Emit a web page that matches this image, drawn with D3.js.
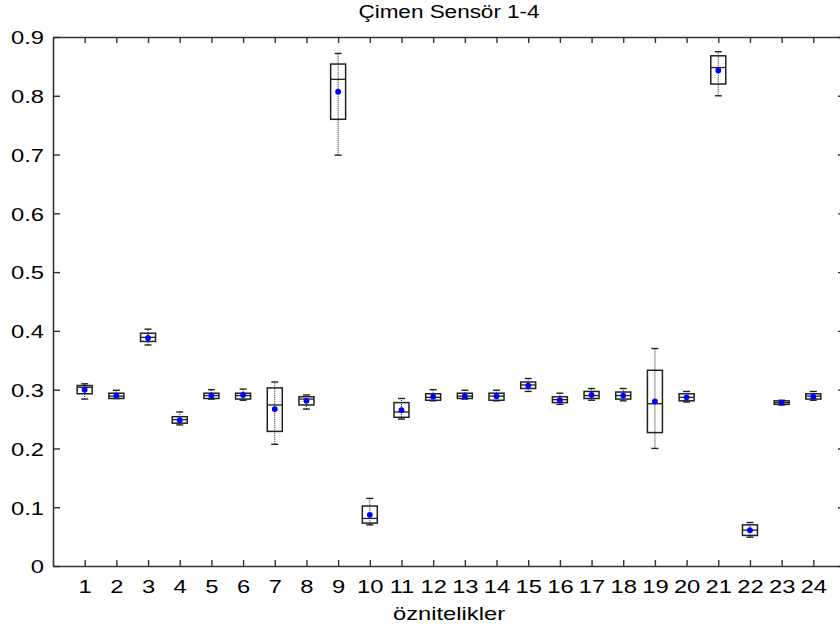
<!DOCTYPE html>
<html>
<head>
<meta charset="utf-8">
<script src="https://cdn.jsdelivr.net/npm/d3@7"></script>
<style>
  html, body { margin: 0; padding: 0; background: #fff; }
  svg { display: block; }
  text { font-family: "Liberation Sans", Arial, sans-serif; fill: #000; }
</style>
</head>
<body>
<svg id="chart" width="840" height="628"></svg>
<script>
// Feature indices (x categories)
const features = d3.range(1, 25);
// Box-plot statistics per feature
const whiskerLow  = [0.284, 0.285, 0.376, 0.240, 0.284, 0.282, 0.207, 0.267, 0.699, 0.070, 0.250, 0.281,
                     0.284, 0.281, 0.297, 0.275, 0.282, 0.281, 0.200, 0.279, 0.800, 0.049, 0.274, 0.282];
const q1          = [0.293, 0.285, 0.382, 0.243, 0.285, 0.284, 0.229, 0.274, 0.760, 0.073, 0.253, 0.282,
                     0.285, 0.282, 0.302, 0.278, 0.285, 0.284, 0.227, 0.281, 0.820, 0.052, 0.275, 0.284];
const median      = [0.304, 0.289, 0.389, 0.249, 0.290, 0.290, 0.274, 0.284, 0.828, 0.081, 0.262, 0.287,
                     0.289, 0.289, 0.308, 0.283, 0.290, 0.290, 0.276, 0.287, 0.848, 0.061, 0.278, 0.289];
const q3          = [0.307, 0.294, 0.396, 0.254, 0.294, 0.294, 0.303, 0.288, 0.854, 0.102, 0.278, 0.293,
                     0.294, 0.294, 0.313, 0.288, 0.297, 0.296, 0.333, 0.293, 0.868, 0.070, 0.281, 0.293];
const whiskerHigh = [0.310, 0.299, 0.403, 0.262, 0.300, 0.301, 0.313, 0.291, 0.872, 0.115, 0.285, 0.300,
                     0.299, 0.299, 0.319, 0.294, 0.302, 0.302, 0.370, 0.297, 0.875, 0.074, 0.282, 0.297];
const means       = [0.300, 0.290, 0.388, 0.248, 0.290, 0.291, 0.267, 0.281, 0.807, 0.087, 0.265, 0.288,
                     0.289, 0.289, 0.307, 0.282, 0.291, 0.290, 0.280, 0.287, 0.843, 0.061, 0.278, 0.288];
const yTicks = [0, 0.1, 0.2, 0.3, 0.4, 0.5, 0.6, 0.7, 0.8, 0.9];

const titleText = "Çimen Sensör 1-4";
const xLabelText = "öznitelikler";

const rows = features.map((f, i) => ({
  f, lo: whiskerLow[i], q1: q1[i], med: median[i], q3: q3[i], hi: whiskerHigh[i], mean: means[i]
}));

const svg = d3.select("#chart");
const plotLeft = 53, plotRight = 845, plotTop = 37, plotBottom = 566;
const stretch = 1.25;
const axisColor = "#333";
const boxColor = "#222";
const fontSize = 19;

const x = d3.scaleLinear().domain([0, 25]).range([plotLeft, plotRight]);
const y = d3.scaleLinear().domain([0, 0.9]).range([plotBottom, plotTop]);

function styleAxis(g) {
  g.select(".domain").attr("stroke", axisColor).attr("stroke-width", 1.6);
  g.selectAll(".tick line").attr("stroke", axisColor).attr("stroke-width", 1.4);
}

// Bottom axis with labels
const gx = svg.append("g").attr("transform", `translate(0,${plotBottom})`)
  .call(d3.axisBottom(x).tickValues(features).tickSize(-6).tickSizeOuter(0).tickPadding(0));
styleAxis(gx);
gx.selectAll(".tick text").attr("font-size", fontSize).attr("y", 27).attr("dy", 0)
  .attr("transform", `scale(${stretch},1)`).attr("fill", "#000")
  .style("font-family", "'Liberation Sans', Arial, sans-serif");

// Top axis (ticks only)
const gxt = svg.append("g").attr("transform", `translate(0,${plotTop})`)
  .call(d3.axisTop(x).tickValues(features).tickSize(-6).tickSizeOuter(0).tickFormat(""));
styleAxis(gxt);

// Left axis with labels
const gy = svg.append("g").attr("transform", `translate(${plotLeft},0)`)
  .call(d3.axisLeft(y).tickValues(yTicks).tickSize(-7).tickSizeOuter(0).tickFormat(d3.format("~g")));
styleAxis(gy);
gy.selectAll(".tick text").attr("font-size", fontSize).attr("x", -9 / stretch).attr("dy", "0.36em")
  .attr("transform", `scale(${stretch},1)`).attr("fill", "#000")
  .style("font-family", "'Liberation Sans', Arial, sans-serif");

// Right axis (ticks only)
const gyr = svg.append("g").attr("transform", `translate(${plotRight},0)`)
  .call(d3.axisRight(y).tickValues(yTicks).tickSize(-7).tickSizeOuter(0).tickFormat(""));
styleAxis(gyr);

// Boxes
const boxW = 15, capW = 7;
const boxes = svg.append("g").selectAll("g").data(rows).join("g");

boxes.append("line")
  .attr("x1", d => x(d.f)).attr("x2", d => x(d.f))
  .attr("y1", d => y(d.lo)).attr("y2", d => y(d.hi))
  .attr("stroke", "#333").attr("stroke-width", 1.1).attr("stroke-dasharray", "1,1");

boxes.append("line")
  .attr("x1", d => x(d.f) - capW / 2).attr("x2", d => x(d.f) + capW / 2)
  .attr("y1", d => y(d.hi)).attr("y2", d => y(d.hi))
  .attr("stroke", boxColor).attr("stroke-width", 1.4);

boxes.append("line")
  .attr("x1", d => x(d.f) - capW / 2).attr("x2", d => x(d.f) + capW / 2)
  .attr("y1", d => y(d.lo)).attr("y2", d => y(d.lo))
  .attr("stroke", boxColor).attr("stroke-width", 1.4);

boxes.append("rect")
  .attr("x", d => x(d.f) - boxW / 2).attr("width", boxW)
  .attr("y", d => y(d.q3)).attr("height", d => Math.max(0.5, y(d.q1) - y(d.q3)))
  .attr("fill", "none").attr("stroke", boxColor).attr("stroke-width", 1.5);

boxes.append("line")
  .attr("x1", d => x(d.f) - boxW / 2).attr("x2", d => x(d.f) + boxW / 2)
  .attr("y1", d => y(d.med)).attr("y2", d => y(d.med))
  .attr("stroke", boxColor).attr("stroke-width", 1.3);

boxes.append("circle")
  .attr("cx", d => x(d.f)).attr("cy", d => y(d.mean)).attr("r", 2.9)
  .attr("fill", "#0000ff");

// Title and x-axis label
const cx = (plotLeft + plotRight) / 2;
svg.append("text").attr("transform", `translate(${cx},18) scale(${stretch},1)`)
  .attr("text-anchor", "middle").attr("font-size", 18).text(titleText);
svg.append("text").attr("transform", `translate(${cx},620) scale(${stretch},1)`)
  .attr("text-anchor", "middle").attr("font-size", fontSize).text(xLabelText);
</script>
</body>
</html>
